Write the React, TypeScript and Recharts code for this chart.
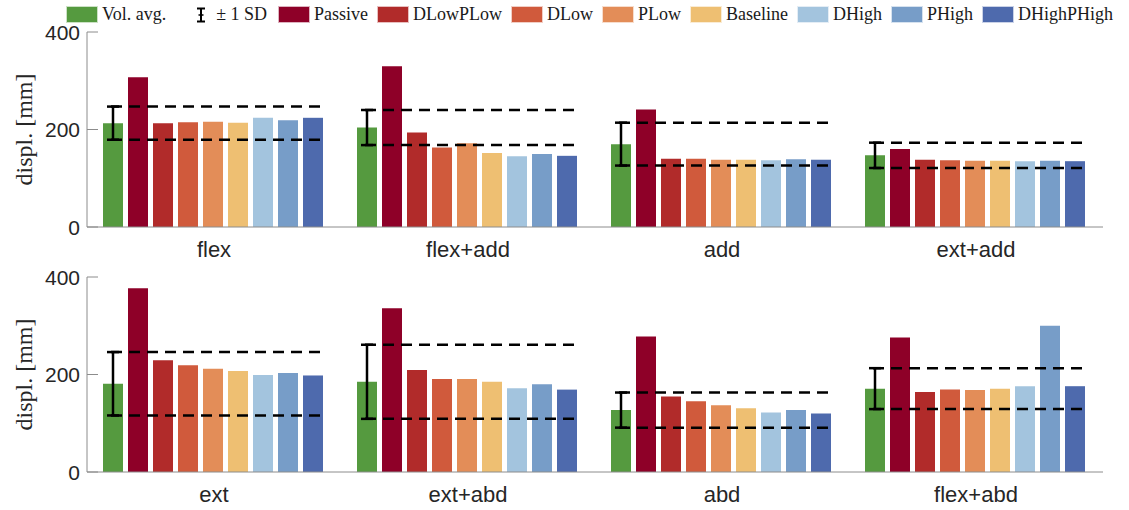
import React from "react";
import { BarChart, Bar, XAxis, YAxis, ErrorBar } from "recharts";

// categories of each panel
const categoriesTop = ["flex", "flex+add", "add", "ext+add"];
const categoriesBottom = ["ext", "ext+abd", "abd", "flex+abd"];

// volunteer average and SD
const volAvgTop = [213, 204, 170, 147];
const volSdTop = [34, 36, 44, 26];
const volAvgBottom = [181, 185, 127, 171];
const volSdBottom = [65, 76, 36, 42];

// simulated conditions
const conditions = ["Passive", "DLowPLow", "DLow", "PLow", "Baseline", "DHigh", "PHigh", "DHighPHigh"];
const conditionColors = ["#8e0028", "#b12b2a", "#d05a3c", "#e38d58", "#eebf72", "#a3c4de", "#779dc8", "#4e6aad"];
const volColor = "#559a3f";

const passiveTop = [307, 330, 241, 160];
const dLowPLowTop = [213, 194, 140, 138];
const dLowTop = [215, 163, 140, 137];
const pLowTop = [216, 172, 138, 136];
const baselineTop = [214, 152, 138, 136];
const dHighTop = [224, 145, 137, 135];
const pHighTop = [219, 150, 139, 136];
const dHighPHighTop = [224, 146, 138, 135];

const passiveBottom = [377, 336, 278, 276];
const dLowPLowBottom = [229, 209, 155, 164];
const dLowBottom = [219, 191, 145, 169];
const pLowBottom = [212, 191, 137, 168];
const baselineBottom = [207, 185, 131, 171];
const dHighBottom = [199, 172, 122, 176];
const pHighBottom = [203, 180, 127, 300];
const dHighPHighBottom = [198, 169, 120, 176];

const yTicks = [0, 200, 400];

const BAR_GAP = 5;
const SANS = "'Liberation Sans', Arial, sans-serif";
const SERIF = "'Liberation Serif', 'DejaVu Serif', serif";

const buildRows = (cats, avg, sd, series) =>
  cats.map((c, i) => {
    const row: any = { name: c, vol: avg[i], sd: sd[i] };
    conditions.forEach((k, j) => {
      row[k] = series[j][i];
    });
    return row;
  });

const topData = buildRows(categoriesTop, volAvgTop, volSdTop, [
  passiveTop, dLowPLowTop, dLowTop, pLowTop, baselineTop, dHighTop, pHighTop, dHighPHighTop,
]);
const bottomData = buildRows(categoriesBottom, volAvgBottom, volSdBottom, [
  passiveBottom, dLowPLowBottom, dLowBottom, pLowBottom, baselineBottom, dHighBottom, pHighBottom, dHighPHighBottom,
]);

// last bar of the group also draws the +/- SD dashed lines on top of the others
const LastBarShape = (props: any) => {
  const { x, y, width, height, fill, payload } = props;
  const base = y + height;
  const unit = height / payload.DHighPHigh;
  const step = width + BAR_GAP;
  const x1 = x - conditions.length * step + width / 2 - 2;
  const x2 = x + width + 3;
  const yUp = base - (payload.vol + payload.sd) * unit;
  const yLo = base - (payload.vol - payload.sd) * unit;
  return (
    <g>
      <rect x={x} y={y} width={width} height={height} fill={fill} />
      <line x1={x1} x2={x2} y1={yUp} y2={yUp} stroke="#000" strokeWidth={2.5} strokeDasharray="11 7" />
      <line x1={x1} x2={x2} y1={yLo} y2={yLo} stroke="#000" strokeWidth={2.5} strokeDasharray="11 7" />
    </g>
  );
};

const YTick = (props: any) => {
  const { x, y, payload } = props;
  return (
    <g>
      <line x1={x} x2={x + 11} y1={y} y2={y} stroke="#8c8c8c" strokeWidth={1} />
      <text x={x - 7} y={y} textAnchor="end" dominantBaseline="central" fontFamily={SANS} fontSize={21} fill="#262626">
        {payload.value}
      </text>
    </g>
  );
};

const XTick = (props: any) => {
  const { x, y, payload } = props;
  return (
    <text x={x} y={y + 14} textAnchor="middle" dominantBaseline="central" fontFamily={SANS} fontSize={22} fill="#262626">
      {payload.value}
    </text>
  );
};

const YLabel = (props: any) => {
  const { viewBox } = props;
  const cy = viewBox.y + viewBox.height / 2;
  return (
    <text
      x={24}
      y={cy}
      transform={`rotate(-90, 24, ${cy})`}
      textAnchor="middle"
      dominantBaseline="central"
      fontFamily={SERIF}
      fontSize={24}
      fill="#262626"
    >
      displ. [mm]
    </text>
  );
};

const Panel = ({ data, height, top }) => (
  <BarChart
    width={1129}
    height={height}
    data={data}
    margin={{ top, right: 26, left: 0, bottom: 0 }}
    barGap={BAR_GAP}
    barCategoryGap={16}
  >
    <XAxis
      dataKey="name"
      height={35}
      tickLine={false}
      axisLine={{ stroke: "#8c8c8c" }}
      tick={<XTick />}
      interval={0}
    />
    <YAxis
      width={87}
      domain={[0, 400]}
      ticks={yTicks}
      tickLine={false}
      tickSize={0}
      tickMargin={0}
      axisLine={{ stroke: "#8c8c8c" }}
      tick={<YTick />}
      label={<YLabel />}
    />
    <Bar dataKey="vol" fill={volColor} isAnimationActive={false}>
      <ErrorBar dataKey="sd" width={6} stroke="#000" strokeWidth={2.5} direction="y" />
    </Bar>
    {conditions.map((k, i) => (
      <Bar
        key={k}
        dataKey={k}
        fill={conditionColors[i]}
        isAnimationActive={false}
        shape={i === conditions.length - 1 ? <LastBarShape /> : undefined}
      />
    ))}
  </BarChart>
);

const Swatch = ({ color }) => (
  <span
    style={{
      display: "inline-block",
      width: 30,
      height: 15,
      background: color,
      border: "1px solid rgba(255,255,255,0.7)",
      marginRight: 4,
    }}
  />
);

const LegendBar = () => (
  <div
    style={{
      position: "absolute",
      top: 4,
      left: 66,
      display: "flex",
      alignItems: "center",
      fontFamily: SERIF,
      fontSize: 18,
      color: "#1a1a1a",
      whiteSpace: "nowrap",
      background: "#fff",
    }}
  >
    <Swatch color={volColor} />
    <span style={{ marginRight: 30 }}>Vol. avg.</span>
    <svg width={10} height={16} style={{ marginRight: 10 }}>
      <line x1={5} x2={5} y1={1} y2={15} stroke="#000" strokeWidth={2} />
      <line x1={1} x2={9} y1={1.5} y2={1.5} stroke="#000" strokeWidth={2} />
      <line x1={1} x2={9} y1={14.5} y2={14.5} stroke="#000" strokeWidth={2} />
      <line x1={2.5} x2={7.5} y1={8} y2={8} stroke="#000" strokeWidth={1.5} />
    </svg>
    <span style={{ marginRight: 11 }}>± 1 SD</span>
    {conditions.map((k, i) => (
      <React.Fragment key={k}>
        <Swatch color={conditionColors[i]} />
        <span style={{ marginRight: 9 }}>{k}</span>
      </React.Fragment>
    ))}
  </div>
);

const App = () => {
  return (
    <div style={{ position: "absolute", left: 0, top: 0, width: 1129, height: 510, background: "#fff", overflow: "hidden" }}>
      <div style={{ position: "absolute", left: 0, top: 0 }}>
        <Panel data={topData} height={262} top={32} />
      </div>
      <div style={{ position: "absolute", left: 0, top: 262 }}>
        <Panel data={bottomData} height={245} top={15} />
      </div>
      <LegendBar />
    </div>
  );
};

export default App;
